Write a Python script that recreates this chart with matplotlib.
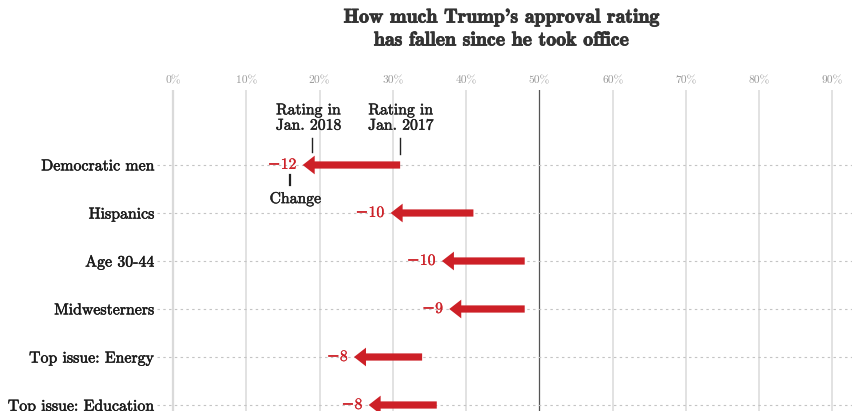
import matplotlib
matplotlib.use("Agg")
import matplotlib.pyplot as plt
import matplotlib.patheffects as pe

# approval ratings (%) by group
groups = ["Democratic men", "Hispanics", "Age 30-44", "Midwesterners",
          "Top issue: Energy", "Top issue: Education"]
jan2017 = [31, 41, 48, 48, 34, 36]
jan2018 = [19, 31, 38, 39, 26, 28]
ticks = [0, 10, 20, 30, 40, 50, 60, 70, 80, 90]

RED = "#cd2027"
INK = "#1a1a1a"
SERIF = ["cmr10", "DejaVu Serif"]
BOLD = ["cmb10", "DejaVu Serif"]
plt.rcParams["axes.formatter.use_mathtext"] = True


def heavy(color, w=0.45):
    # cmr10 renders thin at this size; thicken the strokes a little
    return [pe.withStroke(linewidth=w, foreground=color)]


fig = plt.figure(figsize=(8.53, 4.11), dpi=100)
W, H = 853, 411
ax = fig.add_axes([157 / W, 0, (W - 157) / W, (H - 90) / H])

ax.set_xlim(-2.18, 92.8)
ax.set_ylim(5.125, -1.5625)

for t in ticks:
    if t == 50:
        ax.axvline(t, color="#555555", lw=0.9, zorder=1)
    else:
        ax.axvline(t, color="#dadada", lw=1.6 if t == 0 else 1.1, zorder=1)

ys = list(range(len(groups)))
for y in ys:
    ax.axhline(y, color="#c4c4c4", lw=0.8, ls=(0, (2.2, 3)), zorder=1)

for y, a, b in zip(ys, jan2017, jan2018):
    tip = b - 1.3
    ax.arrow(a, y, tip - a, 0, width=0.15, head_width=0.39,
             head_length=1.64, length_includes_head=True,
             color=RED, lw=0, zorder=3)
    ax.annotate(f"\u2212{a - b}", (tip, y), xytext=(-4.5, 0),
                textcoords="offset points", ha="right", va="center",
                color=RED, fontsize=11.3, family=SERIF, zorder=4,
                path_effects=heavy(RED, 0.2))

ax.set_xticks(ticks)
ax.set_xticklabels([f"{t}%" for t in ticks], family=SERIF, fontsize=8.3,
                   color="#999999")
for lab in ax.get_xticklabels():
    lab.set_path_effects(heavy("#999999", 0.3))
ax.get_xticklabels()[ticks.index(50)].set_color("#555555")
ax.get_xticklabels()[ticks.index(50)].set_path_effects(heavy("#555555", 0.3))
ax.xaxis.tick_top()
ax.tick_params(axis="x", length=0, pad=3)
ax.set_yticks(ys)
ax.set_yticklabels(groups, family=SERIF, fontsize=11.4, color=INK)
for lab in ax.get_yticklabels():
    lab.set_path_effects(heavy(INK, 0.35))
ax.tick_params(axis="y", length=0, pad=2)
for s in ax.spines.values():
    s.set_visible(False)

# explanatory notes on the first row
a0, b0 = jan2017[0], jan2018[0]
note = dict(ha="center", va="center", family=SERIF, fontsize=11.3,
            color="#222222", linespacing=1.15, path_effects=heavy("#222222", 0.35))
ax.text(b0 - 0.5, -0.98, "Rating in\nJan. 2018", **note)
ax.text(a0 + 0.1, -0.98, "Rating in\nJan. 2017", **note)
ax.plot([b0, b0], [-0.56, -0.28], color="#222222", lw=1)
ax.plot([a0, a0], [-0.56, -0.22], color="#222222", lw=1)
cx = b0 - 3.0
ax.plot([cx, cx], [0.21, 0.42], color="#222222", lw=1.6)
ax.text(cx + 0.7, 0.71, "Change", **note)

fig.text(501 / W, 1 - 29 / H,
         "How much Trump's approval rating\nhas fallen since he took office",
         ha="center", va="center", family=BOLD, fontsize=14.3,
         color="#333333", linespacing=1.35, path_effects=heavy("#333333", 0.6))

fig.savefig("out.png", dpi=100)
